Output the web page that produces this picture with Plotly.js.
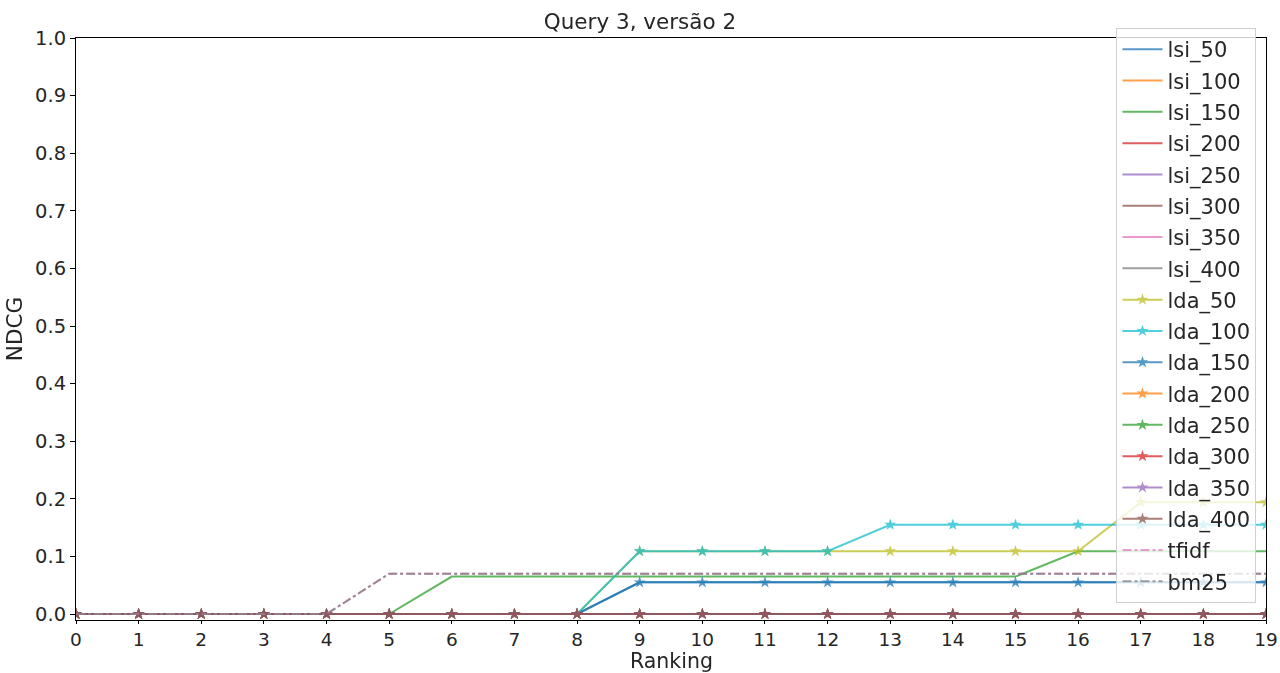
<!DOCTYPE html>
<html>
<head>
<meta charset="utf-8">
<script src="https://cdn.plot.ly/plotly-3.0.1.min.js"></script>
<style>html,body{margin:0;padding:0;background:#fff;}#chart{width:1280px;height:673px;}</style>
</head>
<body>
<div id="chart"></div>
<script>
const ranking = [0,1,2,3,4,5,6,7,8,9,10,11,12,13,14,15,16,17,18,19];
const seriesNames = ["lsi_50","lsi_100","lsi_150","lsi_200","lsi_250","lsi_300","lsi_350","lsi_400",
  "lda_50","lda_100","lda_150","lda_200","lda_250","lda_300","lda_350","lda_400","tfidf","bm25"];
const lsi_50  = [0,0,0,0,0,0,0,0,0,0.055,0.055,0.055,0.055,0.055,0.055,0.055,0.055,0.055,0.055,0.055];
const lsi_100 = [0,0,0,0,0,0,0,0,0,0,0,0,0,0,0,0,0,0,0,0];
const lsi_150 = [0,0,0,0,0,0,0.065,0.065,0.065,0.065,0.065,0.065,0.065,0.065,0.065,0.065,0.109,0.109,0.109,0.109];
const lsi_200 = [0,0,0,0,0,0,0,0,0,0,0,0,0,0,0,0,0,0,0,0];
const lsi_250 = [0,0,0,0,0,0,0,0,0,0,0,0,0,0,0,0,0,0,0,0];
const lsi_300 = [0,0,0,0,0,0,0,0,0,0,0,0,0,0,0,0,0,0,0,0];
const lsi_350 = [0,0,0,0,0,0,0,0,0,0,0,0,0,0,0,0,0,0,0,0];
const lsi_400 = [0,0,0,0,0,0,0,0,0,0,0,0,0,0,0,0,0,0,0,0];
const lda_50  = [0,0,0,0,0,0,0,0,0,0.109,0.109,0.109,0.109,0.109,0.109,0.109,0.109,0.194,0.194,0.194];
const lda_100 = [0,0,0,0,0,0,0,0,0,0.109,0.109,0.109,0.109,0.155,0.155,0.155,0.155,0.155,0.155,0.155];
const lda_150 = [0,0,0,0,0,0,0,0,0,0.055,0.055,0.055,0.055,0.055,0.055,0.055,0.055,0.055,0.055,0.055];
const lda_200 = [0,0,0,0,0,0,0,0,0,0,0,0,0,0,0,0,0,0,0,0];
const lda_250 = [0,0,0,0,0,0,0,0,0,0,0,0,0,0,0,0,0,0,0,0];
const lda_300 = [0,0,0,0,0,0,0,0,0,0,0,0,0,0,0,0,0,0,0,0];
const lda_350 = [0,0,0,0,0,0,0,0,0,0,0,0,0,0,0,0,0,0,0,0];
const lda_400 = [0,0,0,0,0,0,0,0,0,0,0,0,0,0,0,0,0,0,0,0];
const tfidf   = [0,0,0,0,0,0.07,0.07,0.07,0.07,0.07,0.07,0.07,0.07,0.07,0.07,0.07,0.07,0.07,0.07,0.07];
const bm25    = [0,0,0,0,0,0.07,0.07,0.07,0.07,0.07,0.07,0.07,0.07,0.07,0.07,0.07,0.07,0.07,0.07,0.07];
const seriesValues = [lsi_50,lsi_100,lsi_150,lsi_200,lsi_250,lsi_300,lsi_350,lsi_400,
  lda_50,lda_100,lda_150,lda_200,lda_250,lda_300,lda_350,lda_400,tfidf,bm25];
const colors = ["#1f77b4","#ff7f0e","#2ca02c","#d62728","#9467bd","#8c564b","#e377c2","#7f7f7f",
  "#bcbd22","#17becf","#1f77b4","#ff7f0e","#2ca02c","#d62728","#9467bd","#8c564b","#e377c2","#7f7f7f"];

const traces = seriesNames.map((name, i) => {
  const isLda = name.startsWith("lda");
  const isDash = name === "tfidf" || name === "bm25";
  return {
    x: ranking, y: seriesValues[i], name: name, type: "scatter",
    mode: isLda ? "lines+markers" : "lines",
    line: {color: colors[i], width: 2, dash: isDash ? "dashdot" : "solid"},
    marker: {symbol: "star", size: 9, color: colors[i]},
    opacity: 0.75,
    legendgroup: "g" + i
  };
});

const font = {family: "DejaVu Sans, sans-serif", color: "#262626"};
const layout = {
  width: 1280, height: 673,
  margin: {l: 76, r: 14, t: 38, b: 53},
  paper_bgcolor: "#fff", plot_bgcolor: "#fff",
  font: font,
  title: {text: "Query 3, versão 2", font: {family: font.family, size: 21.5, color: "#262626"}, x: 0.5, xanchor: "center", y: 0.98, yanchor: "top"},
  xaxis: {
    range: [0, 19], tickmode: "array", tickvals: ranking, ticktext: ranking.map(String),
    ticks: "outside", ticklen: 3, tickcolor: "#000", showline: true, linecolor: "#000", linewidth: 1,
    mirror: true, showgrid: false, zeroline: false,
    tickfont: {size: 18.5, family: font.family, color: "#262626"}
  },
  yaxis: {
    range: [-0.0104, 1.0], tickmode: "array",
    tickvals: [0,0.1,0.2,0.3,0.4,0.5,0.6,0.7,0.8,0.9,1.0],
    ticktext: ["0.0","0.1","0.2","0.3","0.4","0.5","0.6","0.7","0.8","0.9","1.0"],
    ticks: "outside", ticklen: 5, tickcolor: "#000", showline: true, linecolor: "#000", linewidth: 1,
    mirror: true, showgrid: false, zeroline: false,
    tickfont: {size: 19.5, family: font.family, color: "#262626"},
    title: {text: "NDCG", font: {size: 21.5, family: font.family, color: "#262626"}, standoff: 6}
  },
  annotations: [{
    text: "Ranking", xref: "paper", yref: "paper", x: 0.5, y: 0, xanchor: "center", yanchor: "top",
    yshift: -27, showarrow: false, font: {size: 20.5, family: font.family, color: "#262626"}
  }],
  legend: {
    x: 0.992, xanchor: "right", y: 1.017, yanchor: "top",
    bgcolor: "rgba(255,255,255,0.8)", bordercolor: "#d0d0d0", borderwidth: 1,
    font: {size: 21, family: font.family, color: "#262626"},
    tracegroupgap: 1, itemwidth: 40, maxheight: 660
  },
  showlegend: true
};
Plotly.newPlot("chart", traces, layout, {displayModeBar: false, staticPlot: true});
</script>
</body>
</html>
